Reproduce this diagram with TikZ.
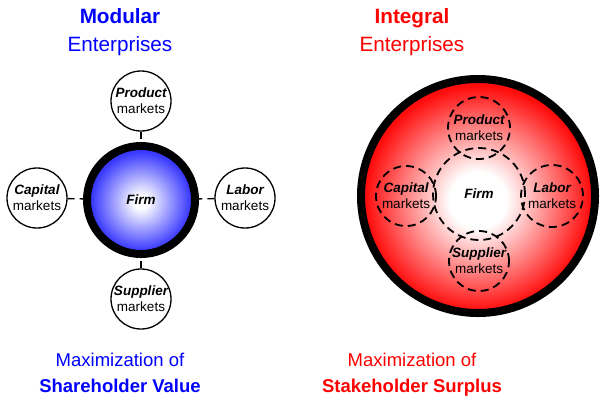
\documentclass[tikz,border=0pt]{standalone}
\usepackage{fontspec}
\setmainfont{Liberation Sans}
\usepackage{tikz}
\usetikzlibrary{shapes}

\definecolor{modblue}{RGB}{0,0,255}
\definecolor{intred}{RGB}{255,0,0}
\pgfdeclareradialshading{firmblue}{\pgfpoint{0bp}{-1bp}}{color(0bp)=(white); color(3bp)=(white); color(23bp)=(modblue!78!white); color(50bp)=(modblue!78!white)}
\pgfdeclareradialshading{firmred}{\pgfpoint{0bp}{-1bp}}{color(0bp)=(white); color(6bp)=(white); color(16bp)=(intred!52!white); color(24bp)=(intred!95!white); color(50bp)=(intred!95!white)}

\begin{document}
\begin{tikzpicture}[x=1pt,y=-1pt]
\tikzstyle{every node}=[inner sep=0pt, align=center, font=\fontsize{13.5}{16}\selectfont]
\tikzstyle{title}=[anchor=base, font=\fontsize{20.7}{28}\selectfont]
\tikzstyle{goal}=[anchor=base, font=\fontsize{18.5}{26}\selectfont]
\tikzstyle{ring}=[circle, draw, line width=8pt]
\tikzstyle{market}=[circle, draw, fill=white, line width=1.3pt, minimum size=60pt]
\tikzstyle{dmarket}=[circle, draw, line width=1.8pt, dash pattern=on 8pt off 5pt]
\tikzstyle{link}=[draw, line width=1.3pt, dash pattern=on 7pt off 5pt]
\newcommand{\mkt}[1]{{\bfseries\itshape #1}\\markets}
\useasboundingbox (0,0) rectangle (601,397);

% modular side
\node[title, text=modblue, font=\fontsize{20.7}{28}\selectfont\bfseries] (modtop) at (120,23) {Modular};
\node[title, text=modblue] (modsub) at (120,51) {Enterprises};
\node[ring, shading=firmblue, minimum size=108pt] (firm) at (141,200) {\bfseries\itshape Firm};
\node[market] (product) at (141,101) {\mkt{Product}};
\node[market] (capital) at (37,198) {\mkt{Capital}};
\node[market] (labor) at (245,198) {\mkt{Labor}};
\node[market] (supplier) at (141,299) {\mkt{Supplier}};
\draw[link] (product) -- (firm);
\draw[link] (capital) -- (firm);
\draw[link] (labor) -- (firm);
\draw[link] (supplier) -- (firm);
\node[goal, text=modblue] (modgoal) at (120,366) {Maximization of};
\node[goal, text=modblue, font=\fontsize{18.5}{26}\selectfont\bfseries] (modval) at (120,392) {Shareholder Value};

% integral side
\node[title, text=intred, font=\fontsize{20.7}{28}\selectfont\bfseries] (inttop) at (412,23) {Integral};
\node[title, text=intred] (intsub) at (412,51) {Enterprises};
\node[ring, shading=firmred, minimum size=234pt] (whole) at (478,196) {};
\node[dmarket, minimum size=92pt] (ifirm) at (479,194) {\bfseries\itshape Firm};
\node[dmarket, minimum size=62pt] (iproduct) at (479,128) {\mkt{Product}};
\node[dmarket, minimum size=60pt] (icapital) at (406,196) {\mkt{Capital}};
\node[dmarket, minimum size=62pt] (ilabor) at (552,196) {\mkt{Labor}};
\node[dmarket, minimum size=60pt] (isupplier) at (479,261) {\mkt{Supplier}};
\node[goal, text=intred] (intgoal) at (412,366) {Maximization of};
\node[goal, text=intred, font=\fontsize{18.5}{26}\selectfont\bfseries] (intval) at (412,392) {Stakeholder Surplus};
\end{tikzpicture}
\end{document}
